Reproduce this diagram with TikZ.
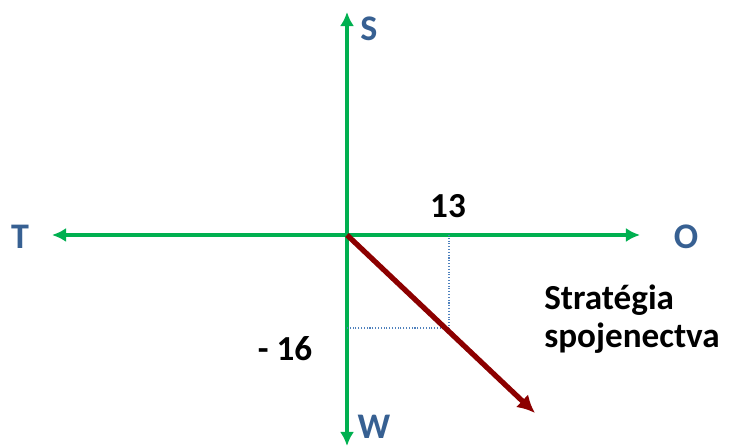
\documentclass[tikz,border=0pt]{standalone}
\usepackage{fontspec}
\setmainfont{Carlito}
\usetikzlibrary{arrows.meta,positioning}
\definecolor{axisgreen}{RGB}{0,176,80}
\definecolor{letterblue}{RGB}{55,96,146}
\definecolor{vecred}{RGB}{140,0,0}
\definecolor{guideblue}{RGB}{79,129,189}
\tikzset{
  axisline/.style={axisgreen, line width=2.2pt},
  axisarrow/.style={{Latex[length=8pt,width=8pt]}-{Latex[length=8pt,width=8pt]}},
  vector/.style={vecred, line width=3pt, -{Latex[length=10pt,width=10pt]}},
  guide/.style={guideblue, line width=0.6pt, densely dotted},
  pole/.style={text=letterblue, font=\fontsize{20.5}{24}\selectfont\bfseries, inner sep=0pt},
  num/.style={font=\fontsize{20}{21.5}\selectfont\bfseries, inner sep=0pt}
}
\begin{document}
\begin{tikzpicture}[x=0.02cm, y=-0.02cm]
\useasboundingbox (0,0) rectangle (730,448);
% axes
\coordinate (o) at (347,235);
\coordinate (west) at (52,235);
\coordinate (east) at (640,235);
\coordinate (north) at (347,12);
\coordinate (south) at (347,446);
\draw[axisline, axisarrow] (west) -- (east);
\draw[axisline, axisarrow] (south) -- (north);
% poles
\node[pole] (s) at (369,29) {S};
\node[pole] (t) at (20,237) {T};
\node[pole] (op) at (686,237) {O};
\node[pole] (w) at (374,427) {W};
% components
\coordinate (c13) at (449,235);
\coordinate (corner) at (449,328);
\coordinate (c16) at (347,328);
\draw[guide] (c13) -- (corner) -- (c16);
\node[num] (n13) at (448,206) {13};
\node[num] (n16) at (285,349) {- 16};
% resulting strategy
\coordinate (tip) at (535,413);
\draw[vector] (o) -- (tip);
\node[num, anchor=west, align=left] (strat) at (544,319) {Stratégia\\spojenectva};
\end{tikzpicture}
\end{document}
